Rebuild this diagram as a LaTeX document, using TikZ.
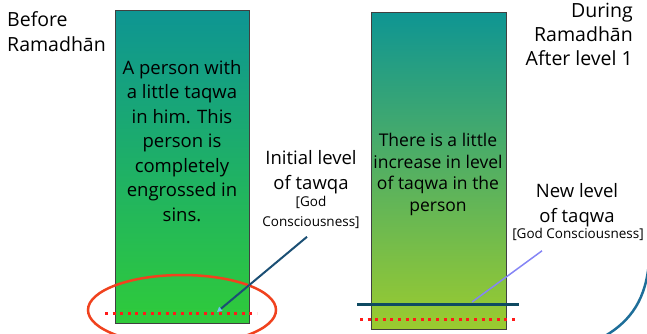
\documentclass[tikz,border=0pt]{standalone}
\usepackage{fontspec}
\setmainfont{Open Sans}
\usepackage{xcolor}
\definecolor{TealTop}{HTML}{0E9593}
\definecolor{GreenBot}{HTML}{2FCB3A}
\definecolor{LimeBot}{HTML}{9BCB2F}
\definecolor{RingRed}{HTML}{F0421E}
\definecolor{DotRed}{HTML}{FF1A1A}
\definecolor{LineNavy}{HTML}{0F4A62}
\definecolor{PointerBlue}{HTML}{1B4F74}
\definecolor{TipBlue}{HTML}{6FC3EE}
\definecolor{LilacLine}{HTML}{8585F5}
\definecolor{ArcBlue}{HTML}{1E6E99}
\usetikzlibrary{arrows.meta,positioning}

\begin{document}
\begin{tikzpicture}[x=1pt,y=-1pt,
  bar/.style={draw=black!75,line width=0.8pt,minimum width=134pt,inner sep=0pt},
  inbar/.style={align=center,inner sep=0pt,anchor=north},
  lbl/.style={align=center,font=\fontsize{18.5}{25}\selectfont,inner sep=0pt,anchor=north},
  sub/.style={align=center,font=\fontsize{13.5}{20}\selectfont,inner sep=0pt,anchor=north},
  dots/.style={DotRed,line width=3pt,dash pattern=on 3pt off 4.6pt},
  pointer/.style={-{Triangle[length=5pt,width=5pt,color=TipBlue]},PointerBlue,line width=2pt},
  newlevel/.style={LineNavy,line width=3pt}
]
  \useasboundingbox (0,0) rectangle (647,333);

  % before Ramadhan
  \node[bar,minimum height=313pt,top color=TealTop,bottom color=GreenBot] (before) at (182,166.5) {};
  \node[inbar,font=\fontsize{18.5}{24.5}\selectfont] (beforetxt) at (182,60) {A person with\\a little taqwa\\in him. This\\person is\\completely\\engrossed in\\sins.};
  \node[lbl,align=left,anchor=north west,font=\fontsize{19.5}{25}\selectfont] (beforehd) at (7,11) {Before\\Ramadh\={a}n};
  \draw[dots] (105,313) -- (257,313);
  \draw[RingRed,line width=2.5pt] (182,310) ellipse [x radius=94pt,y radius=35pt];

  \node[lbl] (initlbl) at (311,150) {Initial level\\of tawqa};
  \node[sub] (initsub) at (311,196) {[God\\Consciousness]};
  \coordinate (initTip) at (217,312);
  \draw[pointer] ([xshift=-4pt,yshift=-8pt]initsub.south) -- (initTip);

  % during Ramadhan
  \node[bar,minimum width=135pt,minimum height=317pt,top color=TealTop,bottom color=LimeBot] (during) at (438.5,170.5) {};
  \node[inbar,font=\fontsize{17.5}{21.7}\selectfont] (duringtxt) at (438,133) {There is a little\\increase in level\\of taqwa in the\\person};
  \node[lbl,align=right,anchor=north east,font=\fontsize{19.5}{24}\selectfont] (duringhd) at (633,3) {During\\Ramadh\={a}n\\After level 1};
  \draw[dots] (360,319) -- (517,319);
  \draw[newlevel] (357,304) -- (519,304);

  \node[lbl] (newlbl) at (577,183) {New level\\of taqwa};
  \node[sub] (newsub) at (578,228) {[God Consciousness]};
  \coordinate (newTip) at (472,302);
  \draw[LilacLine,line width=1.5pt] ([xshift=-36pt,yshift=-10pt]newsub.south) -- (newTip);

  \draw[ArcBlue,line width=2.5pt] (649,262) .. controls (646,298) and (632,320) .. (605,336);
\end{tikzpicture}
\end{document}
